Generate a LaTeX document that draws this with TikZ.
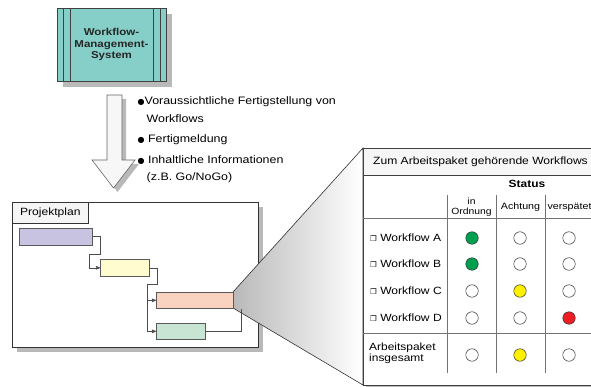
\documentclass[tikz,border=0pt]{standalone}
\usepackage{fontspec}
\setmainfont{Liberation Sans}[FakeStretch=1.15]
\newfontfamily\symfont{DejaVu Sans}
\usetikzlibrary{%
  arrows,%
  positioning,%
  calc%
}
\definecolor{wfteal}{RGB}{134,207,200}
\definecolor{barlila}{RGB}{200,195,225}
\definecolor{bargelb}{RGB}{255,252,208}
\definecolor{barlachs}{RGB}{250,210,192}
\definecolor{bargruen}{RGB}{200,229,212}
\definecolor{ampgruen}{RGB}{0,160,80}
\definecolor{ampgelb}{RGB}{255,240,0}
\definecolor{amprot}{RGB}{235,30,36}
\newcommand{\punkt}{\raisebox{0.6pt}{\symfont\fontsize{8}{8}\selectfont ●}}

\tikzset{
  schatten/.style={fill=gray!55,draw=none},
  balken/.style={draw=black!65,anchor=north west,inner sep=0pt,line width=0.6pt},
  verbind/.style={draw=black!70,line width=0.6pt},
  ampel/.style={circle,draw=black!80,line width=0.5pt,minimum size=12.5pt,inner sep=0pt},
  gitter/.style={draw=black!55,line width=0.6pt},
  txt/.style={anchor=west,inner sep=0pt},
}

\begin{document}
\begin{tikzpicture}[
  x=1pt,y=-1pt,
  font=\fontsize{10.5}{12}\selectfont,
  >=stealth',
]
\clip (0,0) rectangle (591,387);

% Workflow-Management-System
\fill[schatten] (63,14) rectangle (172,87);
\node[draw=black!75,fill=wfteal,minimum width=109pt,minimum height=73pt,inner sep=0pt,
  align=center,text=black!85,font=\fontsize{10}{11.5}\selectfont\bfseries] (wfms) at (111.5,44.5)
  {Workflow-\\Management-\\System};
\foreach \dx in {6,13,-6,-13} {
  \ifdim \dx pt>0pt
    \draw[black!75] ($(wfms.north west)+(\dx,0)$) -- ($(wfms.south west)+(\dx,0)$);
  \else
    \draw[black!75] ($(wfms.north east)+(\dx,0)$) -- ($(wfms.south east)+(\dx,0)$);
  \fi
}

% Pfeil nach unten
\fill[schatten] (111,99) -- (126,99) -- (126,164) -- (139,164) -- (117.5,192) -- (96,164) -- (111,164) -- cycle;
\filldraw[fill=gray!6,draw=black!60,line width=0.6pt] (107,95) -- (122,95) -- (122,160) -- (135,160)
  -- (113.5,188) -- (92,160) -- (107,160) -- cycle;

% Informationen
\begin{scope}[font=\fontsize{10.8}{12}\selectfont]
\node[txt] (info1) at (137.5,102) {\punkt Voraussichtliche Fertigstellung von};
\node[txt] (info1b) at (146.5,119) {Workflows};
\node[txt] (info2) at (137.5,140) {\punkt\ Fertigmeldung};
\node[txt] (info3) at (137.5,160) {\punkt\ Inhaltliche Informationen};
\node[txt] (info3b) at (146.5,178) {(z.B. Go/NoGo)};
\end{scope}

% Projektplan
\fill[schatten] (17,207) rectangle (263,352);
\draw[fill=white,draw=black!80,line width=0.7pt] (12,202) rectangle (258,347);
\node[draw=black!80,fill=gray!8,anchor=north west,minimum width=76pt,minimum height=21pt,
  inner sep=0pt,line width=0.7pt] (plan) at (12,202) {Projektplan};

% Lupe
\shade[left color=gray!55,right color=white,draw=black!80,line width=0.6pt]
  (233,292) -- (363,148) -- (363,385) -- (233,308) -- cycle;

% Balken
\node[balken,fill=barlila,minimum width=73pt,minimum height=17pt] (ap1) at (19,228) {};
\node[balken,fill=bargelb,minimum width=49pt,minimum height=17pt] (ap2) at (100,259) {};
\node[balken,fill=barlachs,minimum width=77pt,minimum height=16pt] (ap3) at (156,292) {};
\node[balken,fill=bargruen,minimum width=49pt,minimum height=16pt] (ap4) at (156,323) {};

\coordinate (k1) at (89,254);
\coordinate (k2) at (147,284);
\coordinate (k3) at (241,309);
\draw[verbind,->] (ap1.east) -- ++(8,0) |- (k1) |- (ap2.west);
\draw[verbind,->] (ap2.east) -- ++(8,0) |- (k2) |- (ap3.west);
\draw[verbind,->] (k2) |- (ap4.west);
\draw[verbind] (ap4.east) -| (k3);

% Tabelle
\fill[schatten] (366,151) rectangle (600,387);
\draw[fill=white,draw=black!75,line width=0.7pt] (363,148) rectangle (600,385);
\draw[fill=gray!7,draw=black!75,line width=0.7pt] (363,148) rectangle (600,175);
\node (titel) at (480.5,161.5) {Zum Arbeitspaket gehörende Workflows};
\node[font=\fontsize{10.4}{12}\selectfont\bfseries] (status) at (527,184) {Status};

\foreach \x in {447,496,545} {
  \draw[gitter] (\x,195) -- (\x,373);
}
\draw[gitter] (363,218) -- (600,218);
\draw[gitter] (363,333) -- (600,333);

\node[align=center,font=\fontsize{9}{10}\selectfont] (kok) at (471.5,207) {in\\Ordnung};
\node[font=\fontsize{9.3}{10}\selectfont] (kach) at (520.5,207.5) {Achtung};
\node[font=\fontsize{9.3}{10}\selectfont] (kver) at (569.5,207.5) {verspätet};

\foreach \r/\y/\fa/\fb/\fc in {A/238/ampgruen/white/white,
                                B/264/ampgruen/white/white,
                                C/291/white/ampgelb/white,
                                D/318/white/white/amprot} {
  \node[txt] (wf\r) at (370,\y) {{\symfont\fontsize{7.5}{8}\selectfont ❐} Workflow \r};
  \node[ampel,fill=\fa] (a\r1) at (472,\y) {};
  \node[ampel,fill=\fb] (a\r2) at (520,\y) {};
  \node[ampel,fill=\fc] (a\r3) at (569,\y) {};
}

\node[txt,align=left,font=\fontsize{10.4}{11}\selectfont] (gesamt) at (369,353) {Arbeitspaket\\insgesamt};
\node[ampel,fill=white] (ag1) at (472,355) {};
\node[ampel,fill=ampgelb] (ag2) at (520,355) {};
\node[ampel,fill=white] (ag3) at (569,355) {};

\end{tikzpicture}
\end{document}
